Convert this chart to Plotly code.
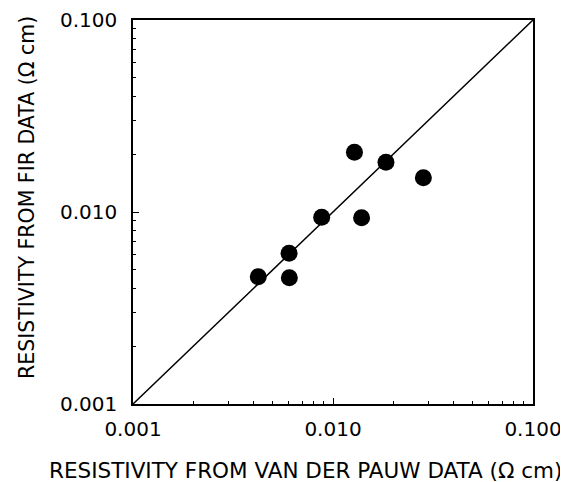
import plotly.graph_objects as go

# Data
vdp_resistivity = [0.00423, 0.00603, 0.00605, 0.00878, 0.0128, 0.0139, 0.0184, 0.0283]
fir_resistivity = [0.00460, 0.00610, 0.00455, 0.00939, 0.0205, 0.00934, 0.01815, 0.0151]
axis_limits = [0.001, 0.1]
tick_values = [0.001, 0.01, 0.1]
tick_labels = ["0.001", "0.010", "0.100"]
x_title = "RESISTIVITY FROM VAN DER PAUW DATA (Ω cm)"
y_title = "RESISTIVITY FROM FIR DATA (Ω cm)"

FONT = "DejaVu Sans"

fig = go.Figure()
fig.add_trace(go.Scatter(
    x=axis_limits, y=axis_limits, mode="lines",
    line=dict(color="black", width=1.5), showlegend=False, hoverinfo="skip"))
fig.add_trace(go.Scatter(
    x=vdp_resistivity, y=fir_resistivity, mode="markers",
    marker=dict(color="black", size=17), showlegend=False))

axis_common = dict(
    type="log", range=[-3, -1], showgrid=False, zeroline=False,
    showline=True, mirror=True, linecolor="black", linewidth=1.5,
    ticks="inside", ticklen=6, tickwidth=1.2, tickcolor="black",
    tickvals=tick_values, ticktext=tick_labels,
    tickfont=dict(family=FONT, size=20, color="black"),
    automargin=False,
    minor=dict(ticks="inside", ticklen=3, tickwidth=1, tickcolor="black",
               dtick="D1", showgrid=False),
)

fig.update_xaxes(**axis_common, ticklabelstandoff=6)
fig.update_yaxes(**axis_common, ticklabelstandoff=10)

fig.add_annotation(text=x_title, xref="paper", yref="paper", x=0.43, y=0,
                   xanchor="center", yanchor="middle", yshift=-66, showarrow=False,
                   font=dict(family=FONT, size=21.5, color="black"))
fig.add_annotation(text=y_title, xref="paper", yref="paper", x=0, y=0.5,
                   xanchor="center", yanchor="middle", xshift=-106, yshift=14,
                   textangle=-90, showarrow=False,
                   font=dict(family=FONT, size=20.5, color="black"))

# the page places the figure 8px in from the top-left corner; margins compensate
fig.update_layout(
    width=568, height=482,
    margin=dict(l=125, r=43, t=12, b=86),
    plot_bgcolor="white", paper_bgcolor="white",
)

fig.write_html("out.html")
